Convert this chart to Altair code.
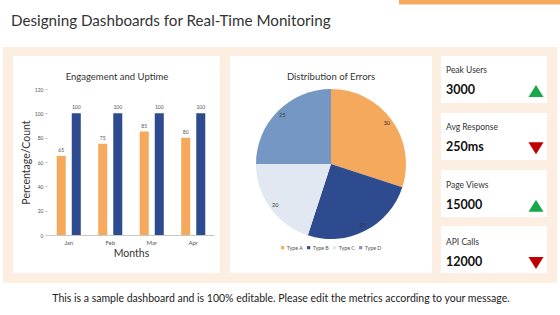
import altair as alt
import pandas as pd

# ---------------- data ----------------
months = ["Jan", "Feb", "Mar", "Apr"]
engagement = [65, 75, 85, 80]
uptime = [100, 100, 100, 100]
series_names = ["Engagement", "Uptime"]

error_types = ["Type A", "Type B", "Type C", "Type D"]
error_counts = [30, 25, 20, 25]

kpi_labels = ["Peak Users", "Avg Response", "Page Views", "API Calls"]
kpi_values = ["3000", "250ms", "15000", "12000"]
kpi_trends = ["up", "down", "up", "down"]

title_text = "Designing Dashboards for Real-Time Monitoring"
footer_text = "This is a sample dashboard and is 100% editable. Please edit the metrics according to your message."
bar_title = "Engagement and Uptime"
pie_title = "Distribution of Errors"

FONT = "Lato"
ORANGE = "#F5A95C"
NAVY = "#2F4B8F"
PEACH = "#FDEEE2"

bar_df = pd.DataFrame({
    "month": months * 2,
    "series": [series_names[0]] * 4 + [series_names[1]] * 4,
    "value": engagement + uptime,
})
pie_df = pd.DataFrame({"type": error_types, "count": error_counts})
kpi_df = pd.DataFrame({"label": kpi_labels, "value": kpi_values, "trend": kpi_trends})

one = pd.DataFrame({"a": [0]})


def box(x1, x2, y1, y2, color):
    return alt.Chart(one).mark_rect(color=color).encode(
        x=alt.value(x1), x2=alt.value(x2), y=alt.value(y1), y2=alt.value(y2)
    )


def label(text, x, y, size, align="left", color="#333", weight="normal"):
    return alt.Chart(pd.DataFrame({"t": [text]})).mark_text(
        align=align, baseline="middle", fontSize=size, font=FONT, color=color, fontWeight=weight
    ).encode(text="t:N", x=alt.value(x), y=alt.value(y))


decor = [
    box(399, 560, 0, 4.5, ORANGE),
    box(3, 557, 47, 283, PEACH),
    box(13, 220, 56, 273, "white"),
    box(230, 432, 56, 273, "white"),
    box(441, 547, 56, 103, "white"),
    box(441, 547, 113, 160, "white"),
    box(441, 547, 170, 217, "white"),
    box(441, 547, 226, 273, "white"),
    label(title_text, 11, 21, 15.2, color="#333"),
    label(footer_text, 281, 299, 10.5, align="center", color="#222"),
    label(bar_title, 117, 77, 9.5, align="center"),
    label(pie_title, 331, 77, 9.5, align="center"),
]

# ---------------- bar chart ----------------
xenc = alt.X(
    "month:N", sort=months,
    scale=alt.Scale(range=[48, 214], paddingInner=0.42, paddingOuter=0.21),
    axis=alt.Axis(orient="bottom", offset=-80, labelAngle=0, labelFontSize=6, labelColor="#555",
                  labelFont=FONT, ticks=False, domainColor="#c8c8c8", labelPadding=4, zindex=1,
                  title="Months", titleFontSize=10.5, titleFont=FONT, titleFontWeight="normal",
                  titleColor="#333", titlePadding=3),
)
yenc = alt.Y(
    "value:Q",
    scale=alt.Scale(domain=[0, 120], range=[235, 89], nice=False),
    axis=alt.Axis(orient="left", offset=-47, values=[0, 20, 40, 60, 80, 100, 120], grid=False,
                  domain=False, tickSize=2, tickColor="#bbb", labelFontSize=5, labelColor="#555",
                  labelFont=FONT, labelPadding=2, zindex=1,
                  title="Percentage/Count", titleFontSize=10.5, titleFont=FONT,
                  titleFontWeight="normal", titleColor="#333", titlePadding=3),
)
xoff = alt.XOffset("series:N", sort=series_names, scale=alt.Scale(paddingInner=0.4, paddingOuter=0))

bars = alt.Chart(bar_df).mark_bar().encode(
    x=xenc, y=yenc, xOffset=xoff,
    color=alt.Color("series:N", sort=series_names,
                    scale=alt.Scale(domain=series_names, range=[ORANGE, NAVY]), legend=None),
)
bar_text = alt.Chart(bar_df).mark_text(
    dy=-6, fontSize=5, font=FONT, color="#555", baseline="middle"
).encode(x=xenc, y=yenc, xOffset=xoff, text="value:Q")
bar_chart = alt.layer(bars, bar_text)

# ---------------- pie ----------------
theta = alt.Theta("count:Q", stack=True)
arc = alt.Chart(pie_df).mark_arc(outerRadius=75).encode(
    theta=theta,
    order=alt.Order("type:N"),
    x=alt.value(331), y=alt.value(164),
    color=alt.Color("type:N", sort=error_types,
                    scale=alt.Scale(domain=error_types,
                                    range=[ORANGE, NAVY, "#E2E8F1", "#7597C4"]),
                    legend=alt.Legend(orient="none", legendX=280, legendY=245, direction="horizontal",
                                      title=None, symbolType="square", symbolSize=10,
                                      symbolStrokeWidth=0, labelFontSize=5.3, labelFont=FONT,
                                      labelColor="#555", columnPadding=3, labelOffset=1.5,
                                      columns=4, zindex=1)),
)
pie_text = alt.Chart(pie_df).mark_text(radius=69, fontSize=5.5, font=FONT, color="#333").encode(
    theta=theta, order=alt.Order("type:N"),
    x=alt.value(331), y=alt.value(164), text="count:Q",
)
pie = alt.layer(arc, pie_text)

# ---------------- KPI cards ----------------
kpi_y = alt.Y("label:N", type="nominal", sort=kpi_labels,
              scale=alt.Scale(type="point", domain=kpi_labels, range=[70, 242], padding=0),
              axis=None)
kpi_label = alt.Chart(kpi_df).mark_text(
    align="left", baseline="middle", fontSize=8.5, font=FONT, color="#333"
).encode(x=alt.value(446), y=kpi_y, text="label:N")
kpi_value = alt.Chart(kpi_df).mark_text(
    align="left", baseline="middle", fontSize=12.5, font=FONT, fontWeight="bold", color="#111",
    yOffset=20
).encode(x=alt.value(446), y=kpi_y, text="value:N")
up_path = "M-1,0.8L1,0.8L0,-0.8Z"
down_path = "M-1,-0.8L1,-0.8L0,0.8Z"
kpi_tri = alt.Chart(kpi_df).mark_point(filled=True, opacity=1, size=225, yOffset=21).encode(
    x=alt.value(536), y=kpi_y,
    shape=alt.Shape("trend:N", scale=alt.Scale(domain=["up", "down"], range=[up_path, down_path]),
                    legend=None),
    color=alt.Color("trend:N", scale=alt.Scale(domain=["up", "down"], range=["#1AA64A", "#C00000"]),
                    legend=None),
)
kpi = alt.layer(kpi_label, kpi_value, kpi_tri)

chart = alt.layer(*decor, bar_chart, pie, kpi).resolve_scale(
    x="independent", y="independent", color="independent", theta="independent", shape="independent"
).properties(
    width=560, height=315,
    autosize=alt.AutoSizeParams(type="none"),
    padding=0,
    background="white",
).configure_view(stroke=None)

chart.save("out.html", embed_options={"renderer": "svg", "actions": False})
